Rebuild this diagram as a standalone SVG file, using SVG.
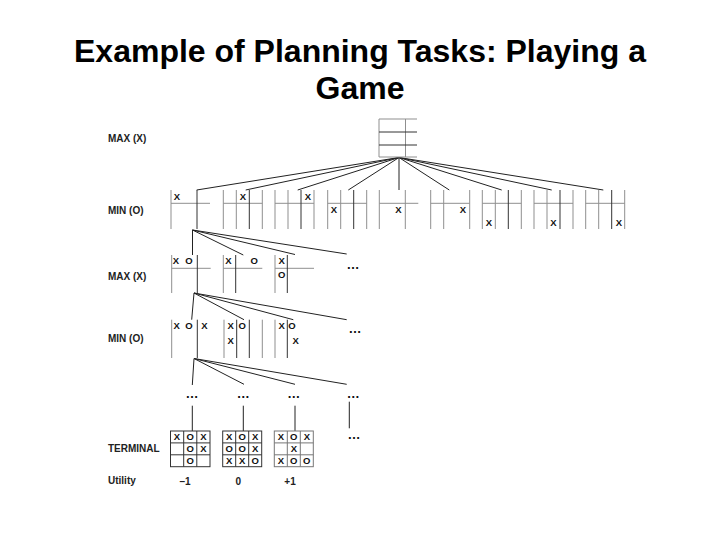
<svg xmlns="http://www.w3.org/2000/svg" width="720" height="540" viewBox="0 0 720 540">
<style>
.title{font-family:"Liberation Sans",Arial,sans-serif;font-weight:bold;font-size:32px;fill:#000;text-anchor:middle}
.lbl{font-family:"Liberation Sans",Arial,sans-serif;font-weight:bold;font-size:10px;fill:#222}
.m{font-family:"Liberation Sans",Arial,sans-serif;font-weight:bold;font-size:9.5px;fill:#111;text-anchor:middle}
.u{font-family:"Liberation Sans",Arial,sans-serif;font-weight:bold;font-size:10px;fill:#222;text-anchor:middle}
.dots{font-family:"Liberation Sans",Arial,sans-serif;font-weight:bold;font-size:13px;fill:#111;text-anchor:middle}
.lt{stroke:#8f8f8f;stroke-width:1;fill:none}
.dk{stroke:#333;stroke-width:1;fill:none}
.tb{stroke:#333;stroke-width:1;fill:none}
.tb2{stroke:#777;stroke-width:1;fill:none}
.c{stroke:#222;stroke-width:1;fill:none}
</style>
<rect width="720" height="540" fill="#fff"/>

<g id="title">
<text class="title" x="360" y="62">Example of Planning Tasks: Playing a</text>
<text class="title" x="360" y="98.5">Game</text>
</g>

<g id="labels">
<text class="lbl" x="108" y="142">MAX (X)</text>
<text class="lbl" x="108" y="213.6">MIN (O)</text>
<text class="lbl" x="108" y="280">MAX (X)</text>
<text class="lbl" x="108" y="341.5">MIN (O)</text>
<text class="lbl" x="108" y="452">TERMINAL</text>
<text class="lbl" x="108" y="483.5">Utility</text>
</g>

<g id="connectors">
<path class="c" d="M399,157.5 L196.7,190 M399,157.5 L245.7,190 M399,157.5 L297.7,190 M399,157.5 L348.3,190 M399,157.5 L399,190 M399,157.5 L449.3,190 M399,157.5 L501.7,190 M399,157.5 L551.7,190 M399,157.5 L603.3,190"/>
<path class="c" d="M192.5,230 L192.5,255 M192.5,230 L243.3,255 M192.5,230 L295,254.5 M192.5,230 L346.7,254"/>
<path class="c" d="M194,293 L191.7,319.7 M194,293 L244,319.7 M194,293 L293.3,319.7 M194,293 L346.7,319.7"/>
<path class="c" d="M194,358.5 L192.3,385 M194,358.5 L244,384.3 M194,358.5 L295,384.3 M194,358.5 L346.7,384.3"/>
<path class="c" d="M192.3,405.7 L192.3,431 M243.3,405.7 L243.3,431 M295,405.7 L295,431 M349.3,401.7 L349.3,428.3"/>
</g>

<g id="root">
<path class="lt" d="M379,119 H417 M379,157 H417 M379,119 V157 M405.5,119 V157"/>
<path class="dk" d="M379,132 H417 M379,145 H417"/>
</g>

<g id="l1-1">
<path class="lt" d="M171,203.3 H210 M171,190 V229"/>
<path class="dk" d="M197,190 V229"/>
<text class="m" x="177" y="200">X</text>
</g>
<g id="l1-2">
<path class="lt" d="M223.3,203.3 H262.3 M223.3,190 V229 M236.3,190 V229 M262.3,190 V229"/>
<path class="dk" d="M249.3,190 V229"/>
<text class="m" x="243" y="200">X</text>
</g>
<g id="l1-3">
<path class="lt" d="M275,203.3 H314 M275,190 V229 M288,190 V229 M314,190 V229"/>
<path class="dk" d="M301,190 V229"/>
<text class="m" x="308" y="200">X</text>
</g>
<g id="l1-4">
<path class="lt" d="M327.7,203.3 H366.7 M327.7,190 V229 M340.7,190 V229 M366.7,190 V229"/>
<path class="dk" d="M353.7,190 V229"/>
<text class="m" x="334" y="212.6">X</text>
</g>
<g id="l1-5">
<path class="lt" d="M379.3,203.3 H418.3 M379.3,190 V229 M405.3,190 V229"/>
<text class="m" x="398.5" y="212.6">X</text>
</g>
<g id="l1-6">
<path class="lt" d="M430.7,203.3 H469.7 M430.7,190 V229 M443.7,190 V229 M469.7,190 V229"/>
<text class="m" x="463" y="212.6">X</text>
</g>
<g id="l1-7">
<path class="lt" d="M482.3,203.3 H521.3 M482.3,190 V229 M495.3,190 V229 M521.3,190 V229"/>
<path class="dk" d="M508.3,190 V229"/>
<text class="m" x="489" y="225.6">X</text>
</g>
<g id="l1-8">
<path class="lt" d="M534,203.3 H573 M534,190 V229 M547,190 V229 M573,190 V229"/>
<path class="dk" d="M560,190 V229"/>
<text class="m" x="553.3" y="225.6">X</text>
</g>
<g id="l1-9">
<path class="lt" d="M585.7,203.3 H624.7 M585.7,190 V229 M598.7,190 V229 M624.7,190 V229"/>
<path class="dk" d="M611.7,190 V229"/>
<text class="m" x="619" y="225.6">X</text>
</g>

<g id="l2-1">
<path class="lt" d="M171.7,268.3 H210.7 M171.7,255 V293"/>
<path class="dk" d="M197.3,255 V293"/>
<text class="m" x="176" y="264">X</text>
<text class="m" x="189" y="264">O</text>
</g>
<g id="l2-2">
<path class="lt" d="M223.3,268.3 H262.3 M223.3,255 V293"/>
<path class="dk" d="M235.7,255 V293"/>
<text class="m" x="228.3" y="264">X</text>
<text class="m" x="254.3" y="264">O</text>
</g>
<g id="l2-3">
<path class="lt" d="M275,268.3 H314 M275,255 V293"/>
<path class="dk" d="M287.3,255 V293"/>
<text class="m" x="281.7" y="264">X</text>
<text class="m" x="281.7" y="277.6">O</text>
</g>
<g id="l2-more"><text class="dots" x="353" y="268.5">…</text></g>

<g id="l3-1">
<path class="lt" d="M171.7,319.7 V358"/>
<path class="dk" d="M197.3,319.7 V358"/>
<text class="m" x="176.7" y="329">X</text>
<text class="m" x="189" y="329">O</text>
<text class="m" x="204.3" y="329">X</text>
</g>
<g id="l3-2">
<path class="lt" d="M224,319.7 V358 M262.3,319.7 V358"/>
<path class="dk" d="M236.7,319.7 V358 M249.3,319.7 V358"/>
<text class="m" x="230.7" y="329">X</text>
<text class="m" x="242.3" y="329">O</text>
<text class="m" x="230.7" y="344">X</text>
</g>
<g id="l3-3">
<path class="lt" d="M275,319.7 V358"/>
<path class="dk" d="M287.3,319.7 V358"/>
<text class="m" x="281.7" y="329">X</text>
<text class="m" x="292" y="329">O</text>
<text class="m" x="295.7" y="344">X</text>
</g>
<g id="l3-more"><text class="dots" x="355" y="332.5">…</text></g>

<g id="l4">
<text class="dots" x="192" y="397.8">…</text>
<text class="dots" x="243.3" y="397.8">…</text>
<text class="dots" x="293.8" y="397.8">…</text>
<text class="dots" x="353.3" y="397.8">…</text>
</g>

<g id="t-1">
<rect class="tb" x="170.5" y="431" width="39.5" height="35.7"/>
<path class="tb" d="M170.5,442.9 H210 M170.5,454.8 H210 M183.7,431 V466.7 M196.8,431 V466.7"/>
<text class="m" x="177" y="440.3">X</text><text class="m" x="190.2" y="440.3">O</text><text class="m" x="203.4" y="440.3">X</text>
<text class="m" x="190.2" y="452.3">O</text><text class="m" x="203.4" y="452.3">X</text>
<text class="m" x="190.2" y="464.3">O</text>
</g>
<g id="t-2">
<rect class="tb" x="222.7" y="431" width="39" height="35.7"/>
<path class="tb" d="M222.7,442.9 H261.7 M222.7,454.8 H261.7 M235.7,431 V466.7 M248.7,431 V466.7"/>
<text class="m" x="229.2" y="440.3">X</text><text class="m" x="242.2" y="440.3">O</text><text class="m" x="255.2" y="440.3">X</text>
<text class="m" x="229.2" y="452.3">O</text><text class="m" x="242.2" y="452.3">O</text><text class="m" x="255.2" y="452.3">X</text>
<text class="m" x="229.2" y="464.3">X</text><text class="m" x="242.2" y="464.3">X</text><text class="m" x="255.2" y="464.3">O</text>
</g>
<g id="t-3">
<rect class="tb2" x="274.3" y="431" width="39" height="35.7"/>
<path class="tb2" d="M274.3,442.9 H313.3 M274.3,454.8 H313.3 M287.3,431 V466.7 M300.3,431 V466.7"/>
<text class="m" x="280.8" y="440.3">X</text><text class="m" x="293.8" y="440.3">O</text><text class="m" x="306.8" y="440.3">X</text>
<text class="m" x="293.8" y="452.3">X</text>
<text class="m" x="280.8" y="464.3">X</text><text class="m" x="293.8" y="464.3">O</text><text class="m" x="306.8" y="464.3">O</text>
</g>
<g id="t-more"><text class="dots" x="354" y="438.5">…</text></g>

<g id="utility">
<text class="u" x="185" y="485.3">–1</text>
<text class="u" x="238.3" y="485.3">0</text>
<text class="u" x="290" y="485.3">+1</text>
</g>
</svg>
